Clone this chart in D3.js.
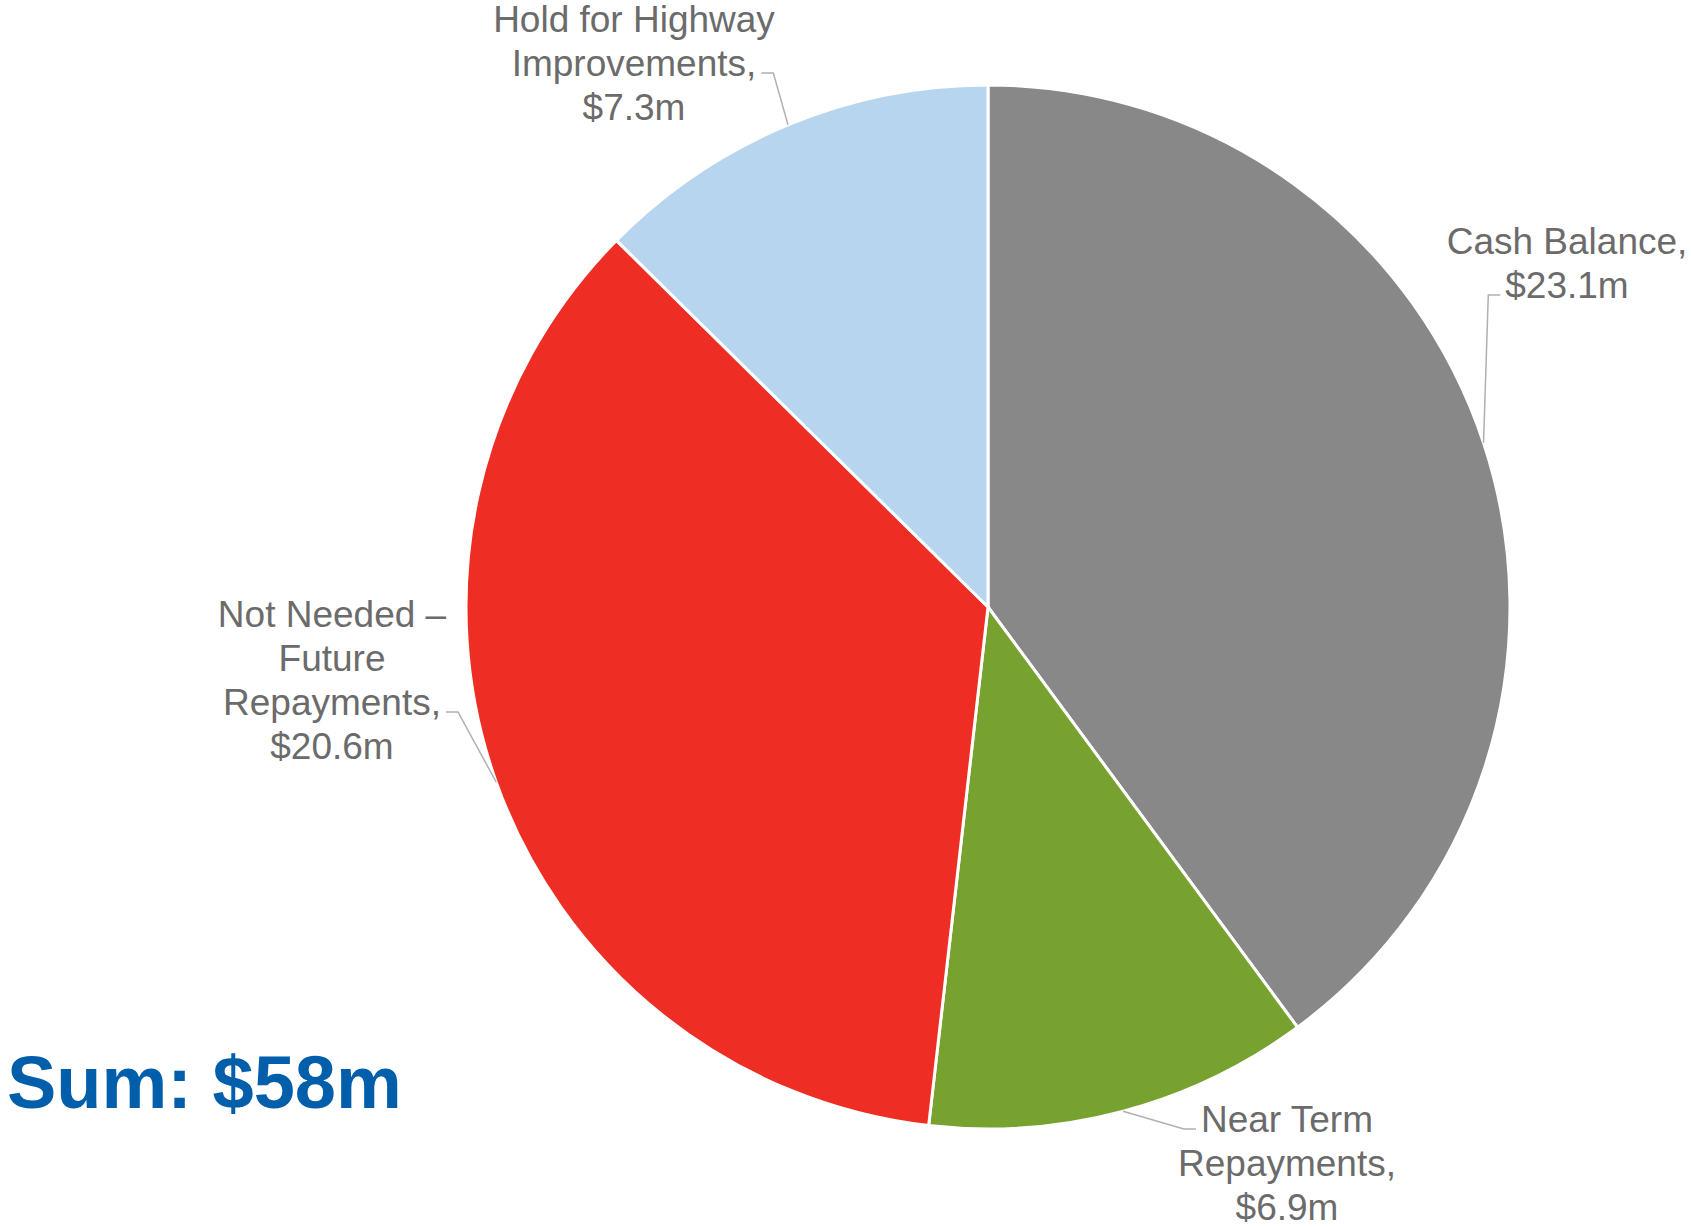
<!DOCTYPE html>
<html>
<head>
<meta charset="utf-8">
<script src="https://cdn.jsdelivr.net/npm/d3@7"></script>
<style>
  body { margin: 0; background: #fff; }
  svg { display: block; }
</style>
</head>
<body>
<div id="chart"></div>
<script>
// pie data
const categories = ["Cash Balance", "Near Term Repayments", "Not Needed \u2013 Future Repayments", "Hold for Highway Improvements"];
const values = [23.1, 6.9, 20.6, 7.3];
const valueLabels = ["$23.1m", "$6.9m", "$20.6m", "$7.3m"];
// label text broken in lines like the original
const labelLines = [
  ["Cash Balance,", "$23.1m"],
  ["Near Term", "Repayments,", "$6.9m"],
  ["Not Needed \u2013", "Future", "Repayments,", "$20.6m"],
  ["Hold for Highway", "Improvements,", "$7.3m"]
];
const colors = ["#888888", "#78a22f", "#ee2e24", "#b7d5ef"];
const sumText = "Sum: $58m";

const width = 1691, height = 1228;
const cx = 988, cy = 607, radius = 522;

// where each label block sits (centre x, first baseline) and which line the leader hooks onto
const labelPos = [
  {x: 1567, y: 254, hook: 1, side: "left"},
  {x: 1287, y: 1132, hook: 0, side: "left"},
  {x: 332, y: 627, hook: 2, side: "right"},
  {x: 634, y: 32, hook: 1, side: "right"}
];
const lineH = 44;

const svg = d3.select("#chart").append("svg")
  .attr("width", width)
  .attr("height", height);

const g = svg.append("g").attr("transform", "translate(" + cx + "," + cy + ")");

const pie = d3.pie().sort(null).value(d => d)(values);
const arc = d3.arc().innerRadius(0).outerRadius(radius);

g.selectAll("path.slice")
  .data(pie)
  .enter().append("path")
  .attr("class", "slice")
  .attr("d", arc)
  .attr("fill", (d, i) => colors[i])
  .attr("stroke", "#fff")
  .attr("stroke-width", 3)
  .attr("stroke-linejoin", "round");

// leader lines: from pie edge to a short horizontal tail next to the label
const edgeAngle = [1.251, 2.88, 4.37, 5.89]; // radians from 12 o'clock, where leader meets the rim
const labels = svg.append("g")
  .attr("font-family", "'Liberation Sans', Arial, sans-serif")
  .attr("font-size", 37)
  .attr("fill", "#6b6b6b")
  .attr("text-anchor", "middle");

labelLines.forEach((lines, i) => {
  const p = labelPos[i];
  const t = labels.append("text");
  lines.forEach((ln, k) => {
    t.append("tspan").attr("x", p.x).attr("y", p.y + k * lineH).text(ln);
  });
});

// measure hook line widths for leader tails
labelLines.forEach((lines, i) => {
  const p = labelPos[i];
  const tmp = labels.append("text").text(lines[p.hook]);
  const w = tmp.node().getComputedTextLength();
  tmp.remove();
  const hy = p.y + p.hook * lineH - 3;
  let x0 = p.side === "left" ? p.x - w / 2 - 5 : p.x + w / 2 + 5;
  let x1 = p.side === "left" ? x0 - 12 : x0 + 12;
  const a = edgeAngle[i];
  const ex = cx + radius * Math.sin(a), ey = cy - radius * Math.cos(a);
  svg.append("polyline")
    .attr("points", [[x0, hy], [x1, hy], [ex, ey]].map(q => q.join(",")).join(" "))
    .attr("fill", "none")
    .attr("stroke", "#b0b0b0")
    .attr("stroke-width", 1.5);
});

svg.append("text")
  .attr("x", 7)
  .attr("y", 1108)
  .attr("font-family", "'Liberation Sans', Arial, sans-serif")
  .attr("font-weight", "bold")
  .attr("font-size", 74)
  .attr("fill", "#005eaa")
  .attr("xml:space", "preserve")
  .text(sumText);
</script>
</body>
</html>
